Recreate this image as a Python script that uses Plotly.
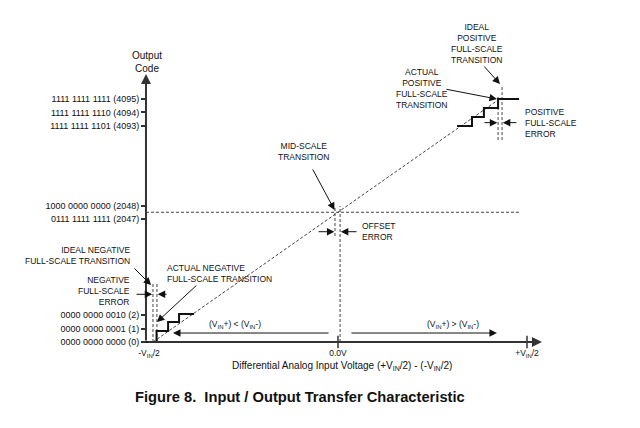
import plotly.graph_objects as go

FONT = "Liberation Sans, Arial, sans-serif"
INK = "#111111"
AXIS_INK = "#333333"
DASH_INK = "#444444"

# ---- vertical axis: output codes (broken axis) ----
CODES = [0, 1, 2, 2047, 2048, 4093, 4094, 4095]
CODE_LABELS = [
    "0000 0000 0000 (0)",
    "0000 0000 0001 (1)",
    "0000 0000 0010 (2)",
    "0111 1111 1111 (2047)",
    "1000 0000 0000 (2048)",
    "1111 1111 1101 (4093)",
    "1111 1111 1110 (4094)",
    "1111 1111 1111 (4095)",
]
SEGMENT_START_CODES = [0, 2047, 4093]
SEGMENT_START_ROWS = [0.0, 9.18, 16.13]

# ---- horizontal axis: input voltage, in units of V_IN/2 ----
V_TICKS = [-1.0, 0.0, 1.0]
V_TICK_LABELS = ["-V<sub>IN</sub>/2", "0.0V", "+V<sub>IN</sub>/2"]
V_TICK_MARKS = [0.0, 1.0]

# ---- transfer characteristic (schematic rows) ----
LOW_STAIR_V = [-1.016, -0.960, -0.899, -0.841, -0.762]
LOW_STAIR_ROW = [0.0, 0.82, 1.49, 2.09, 2.09]
HIGH_STAIR_V = [0.630, 0.709, 0.772, 0.847, 0.958]
HIGH_STAIR_ROW = [16.12, 16.79, 17.46, 18.13, 18.13]
IDEAL_V = [-0.979, 0.847]
IDEAL_ROW = [0.0, 18.06]

# transitions (ideal / actual)
NEG_IDEAL, NEG_ACTUAL = -0.979, -0.958
MID_IDEAL, MID_ACTUAL = -0.016, 0.011
POS_ACTUAL, POS_IDEAL = 0.847, 0.868
MID_CODE_ROW = 9.68

# guide lines: (voltage, row from, row to)
GUIDE_V = [NEG_IDEAL, NEG_ACTUAL, MID_IDEAL, MID_ACTUAL, POS_ACTUAL, POS_IDEAL]
GUIDE_ROW_FROM = [0.0, 0.0, 7.91, 0.0, 15.07, 15.07]
GUIDE_ROW_TO = [4.33, 4.33, 10.15, 10.15, 18.36, 19.18]

AXIS_V = -1.016
AXIS_TOP_ROW = 20.0
AXIS_END_V = 1.079
MID_LINE_END_V = 0.963

X_RANGE = [-1.7884, 1.5979]
Y_RANGE = [-6.418, 25.522]


def code_row(code):
    row = None
    for c0, r0 in zip(SEGMENT_START_CODES, SEGMENT_START_ROWS):
        if code >= c0:
            row = r0 + (code - c0)
    return row


fig = go.Figure()
dash = "3px,2px"

fig.add_trace(go.Scatter(x=IDEAL_V, y=IDEAL_ROW, mode="lines",
                         line=dict(color=DASH_INK, width=1, dash=dash)))
gx, gy = [], []
for v, a, b in zip(GUIDE_V, GUIDE_ROW_FROM, GUIDE_ROW_TO):
    gx += [v, v, None]
    gy += [a, b, None]
gx += [AXIS_V, MID_LINE_END_V]
gy += [MID_CODE_ROW, MID_CODE_ROW]
fig.add_trace(go.Scatter(x=gx, y=gy, mode="lines",
                         line=dict(color=DASH_INK, width=1, dash=dash)))
for sx, sy in [(LOW_STAIR_V, LOW_STAIR_ROW), (HIGH_STAIR_V, HIGH_STAIR_ROW)]:
    fig.add_trace(go.Scatter(x=sx, y=sy, mode="lines", line_shape="hv",
                             line=dict(color=INK, width=2)))
fig.add_trace(go.Scatter(x=V_TICK_MARKS, y=[0] * len(V_TICK_MARKS), mode="markers",
                         marker=dict(symbol="line-ns-open", size=9, color=AXIS_INK,
                                     line=dict(color=AXIS_INK, width=1.5))))

ann = []


def arrow(tv, tr, hv, hr, width=1.0, size=1.5, color=INK):
    ann.append(dict(x=hv, y=hr, ax=tv, ay=tr, xref="x", yref="y", axref="x", ayref="y",
                    text="", showarrow=True, arrowhead=2, arrowsize=size,
                    arrowwidth=width, arrowcolor=color, standoff=0, startstandoff=0))


# axes
arrow(AXIS_V, 0.0, AXIS_V, AXIS_TOP_ROW, width=2, size=1.0, color=AXIS_INK)
arrow(AXIS_V, 0.0, AXIS_END_V, 0.0, width=2, size=1.0, color=AXIS_INK)

# pointer arrows
arrow(-1.085, 5.60, -0.989, 4.25)            # ideal negative FS transition
arrow(-1.074, 3.56, NEG_IDEAL - 0.004, 3.56)  # negative FS error
arrow(-0.899, 3.56, NEG_ACTUAL + 0.004, 3.56)
arrow(-0.741, 4.33, NEG_ACTUAL, 1.49)         # actual negative FS transition
arrow(-0.138, 12.99, -0.0185, 9.85)           # mid-scale transition
arrow(-0.111, 8.23, MID_IDEAL - 0.003, 8.23)  # offset error
arrow(0.106, 8.23, MID_ACTUAL + 0.004, 8.23)
arrow(0.566, 18.88, 0.841, 18.13)             # actual positive FS transition
arrow(0.767, 20.67, 0.857, 19.25)             # ideal positive FS transition
arrow(0.767, 16.37, POS_ACTUAL - 0.004, 16.37)  # positive FS error
arrow(0.952, 16.37, POS_IDEAL + 0.004, 16.37)
arrow(-0.042, 0.67, -0.873, 0.67)             # (VIN+) < (VIN-)
arrow(0.063, 0.67, 0.841, 0.67)               # (VIN+) > (VIN-)

TEXTS = [
    ("Output<br>Code", -1.011, 20.9, "center", 10),
    ("IDEAL<br>POSITIVE<br>FULL-SCALE<br>TRANSITION", 0.735, 22.29, "center", 8.5),
    ("ACTUAL<br>POSITIVE<br>FULL-SCALE<br>TRANSITION", 0.444, 18.93, "center", 8.5),
    ("POSITIVE<br>FULL-SCALE<br>ERROR", 0.979, 16.31, "left", 8.5),
    ("MID-SCALE<br>TRANSITION", -0.180, 14.18, "center", 8.5),
    ("OFFSET<br>ERROR", 0.116, 8.21, "left", 8.5),
    ("IDEAL NEGATIVE<br>FULL-SCALE TRANSITION", -1.090, 6.42, "right", 8.5),
    ("NEGATIVE<br>FULL-SCALE<br>ERROR", -1.090, 3.81, "right", 8.5),
    ("ACTUAL NEGATIVE<br>FULL-SCALE TRANSITION", -0.915, 5.13, "left", 8.5),
    ("(V<sub>IN</sub>+) &lt; (V<sub>IN</sub>-)", -0.545, 1.34, "center", 8.5),
    ("(V<sub>IN</sub>+) &gt; (V<sub>IN</sub>-)", 0.608, 1.27, "center", 8.5),
    ("Differential Analog Input Voltage (+V<sub>IN</sub>/2) - (-V<sub>IN</sub>/2)",
     0.021, -1.79, "center", 10),
]
for t, v, r, xa, fs in TEXTS:
    ann.append(dict(x=v, y=r, xref="x", yref="y", text=t, showarrow=False,
                    xanchor=xa, yanchor="middle", align=xa if xa != "center" else "center",
                    font=dict(family=FONT, size=fs, color=INK)))

ann.append(dict(x=300 / 640, y=(428 - 397) / 428, xref="paper", yref="paper",
                text="<b>Figure 8.&nbsp; Input / Output Transfer Characteristic</b>",
                showarrow=False, xanchor="center", yanchor="middle",
                font=dict(family=FONT, size=14.7, color=INK)))

ypos = (AXIS_V - X_RANGE[0]) / (X_RANGE[1] - X_RANGE[0])
xpos = (0 - Y_RANGE[0]) / (Y_RANGE[1] - Y_RANGE[0])

fig.update_layout(
    width=640, height=428, margin=dict(l=0, r=0, t=0, b=0),
    paper_bgcolor="white", plot_bgcolor="white", showlegend=False,
    annotations=ann,
    xaxis=dict(range=X_RANGE, anchor="free", position=xpos, showgrid=False,
               zeroline=False, showline=False, tickvals=V_TICKS, ticktext=V_TICK_LABELS,
               ticks="outside", ticklen=3, tickcolor="rgba(0,0,0,0)",
               tickfont=dict(family=FONT, size=8.5, color=INK)),
    yaxis=dict(range=Y_RANGE, anchor="free", position=ypos, showgrid=False,
               zeroline=False, showline=False,
               tickvals=[code_row(c) for c in CODES], ticktext=CODE_LABELS,
               ticks="outside", ticklen=5, tickwidth=1.5, tickcolor=AXIS_INK,
               tickfont=dict(family=FONT, size=9, color=INK)),
)

fig.write_html(
    "out.html",
    config={"displayModeBar": False},
    post_script="document.body.style.margin='0px';document.body.style.overflow='hidden';",
)
